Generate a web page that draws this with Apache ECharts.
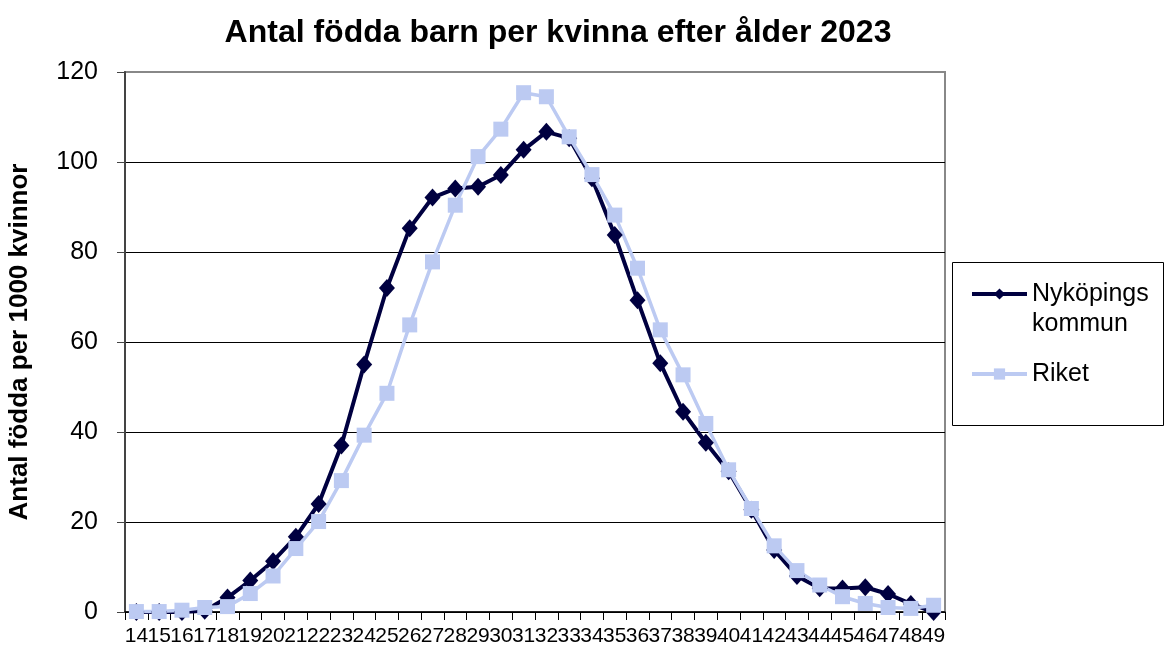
<!DOCTYPE html>
<html>
<head>
<meta charset="utf-8">
<script src="https://cdn.jsdelivr.net/npm/echarts@6/dist/echarts.min.js"></script>
<style>
  html, body { margin: 0; padding: 0; background: #fff; }
  #chart { width: 1165px; height: 645px; }
</style>
</head>
<body>
<div id="chart"></div>
<script>
const ages = [];
for (let a = 14; a <= 49; a++) ages.push(String(a));

const nykoping = [0, 0, 0, 0.3, 3.2, 7, 11.3, 16.7, 24, 37, 55, 72, 85.3, 92.1, 94.1,
  94.5, 97.1, 102.7, 106.7, 105.3, 96.4, 83.8, 69.3, 55.3, 44.5, 37.6, 31.3, 22.7,
  13.8, 8, 5.3, 5.2, 5.5, 4, 1.8, 0];
const riket = [0.1, 0.1, 0.4, 1, 1.2, 4.1, 8, 14.1, 20.1, 29.2, 39.3, 48.6, 63.8, 77.8,
  90.4, 101.2, 107.3, 115.4, 114.5, 105.6, 97.2, 88.2, 76.4, 62.7, 52.7, 41.9, 31.6,
  23, 14.7, 9.2, 6, 3.4, 1.9, 1, 0.8, 1.5];

const font = "Liberation Sans, Arial, sans-serif";
const dark = "#000040";
const light = "#bccaf2";

const myChart = echarts.init(document.getElementById("chart"));
myChart.setOption({
  animation: false,
  textStyle: { fontFamily: font },
  title: {
    text: "Antal födda barn per kvinna efter ålder 2023",
    left: 553,
    top: 12,
    textAlign: "center",
    textStyle: { fontSize: 32, fontWeight: "bold", color: "#000", fontFamily: font },
  },
  grid: {
    left: 125, right: 220, top: 72, bottom: 33,
    outerBoundsMode: "none",
    containLabel: false,
    show: true, borderColor: "#888", borderWidth: 2,
  },
  legend: {
    orient: "vertical",
    left: 970,
    top: 249,
    padding: 0,
    itemWidth: 55,
    itemHeight: 14,
    itemGap: 20,
    data: ["Nyköpings kommun", "Riket"],
    lineStyle: { width: 4 },
    formatter: (name) => (name === "Nyköpings kommun" ? "\nNyköpings\nkommun" : name),
    textStyle: { fontSize: 25, color: "#000", lineHeight: 30, fontFamily: font },
  },
  graphic: [{
    type: "rect",
    shape: { x: 952.5, y: 262.5, width: 211, height: 163 },
    style: { fill: "none", stroke: "#000", lineWidth: 1 },
    z: 0,
  }],
  xAxis: {
    type: "category",
    data: ages,
    boundaryGap: true,
    axisLine: { lineStyle: { color: "#000", width: 1.5 } },
    axisTick: { show: true, length: 8, lineStyle: { color: "#000" } },
    axisLabel: { interval: 0, fontSize: 21, color: "#000", margin: 14, fontFamily: font },
  },
  yAxis: {
    type: "value",
    min: 0, max: 120, interval: 20,
    name: "Antal födda per 1000 kvinnor",
    nameLocation: "middle",
    nameGap: 92,
    nameTextStyle: { fontSize: 26, fontWeight: "bold", color: "#000", fontFamily: font },
    axisLine: { show: true, lineStyle: { color: "#444", width: 2 } },
    axisTick: { show: true, length: 8, lineStyle: { color: "#444" } },
    axisLabel: { fontSize: 25, color: "#000", margin: 27, fontFamily: font },
    splitLine: {
      lineStyle: { color: ["#000", "#000", "#000", "#000", "#000", "#000", "#888"], width: 1 },
    },
  },
  series: [
    {
      name: "Nyköpings kommun",
      type: "line",
      data: nykoping,
      symbol: "diamond",
      symbolSize: [16, 18],
      lineStyle: { color: dark, width: 4 },
      itemStyle: { color: dark },
    },
    {
      name: "Riket",
      type: "line",
      data: riket,
      symbol: "rect",
      symbolSize: 15,
      lineStyle: { color: light, width: 3.5 },
      itemStyle: { color: light },
    },
  ],
});
</script>
</body>
</html>
